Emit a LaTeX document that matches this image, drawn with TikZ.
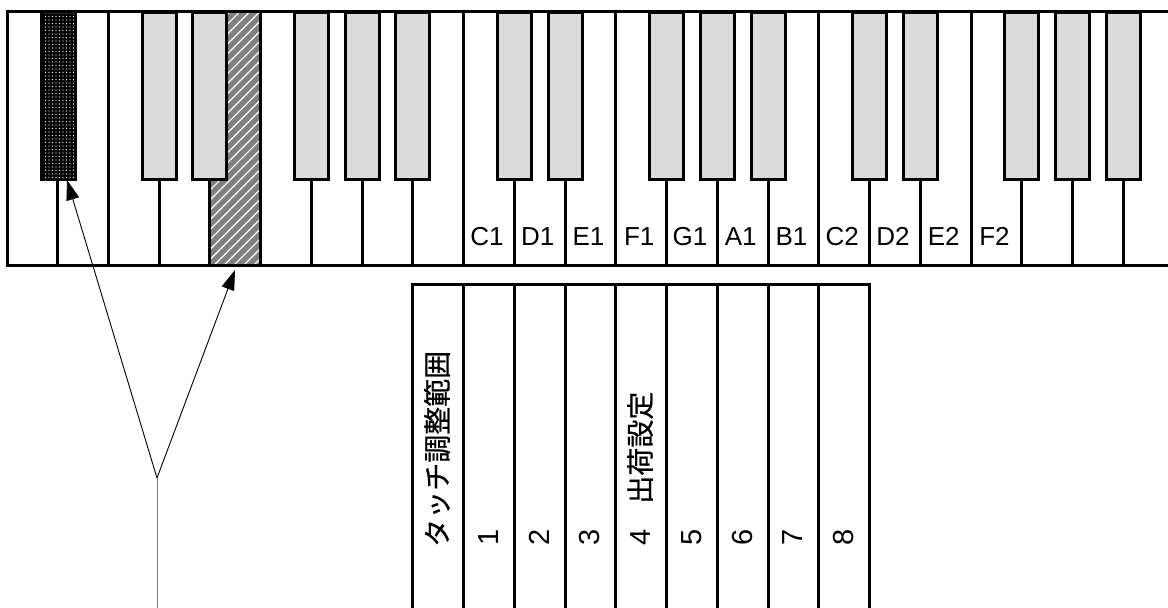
\documentclass[tikz,border=0pt]{standalone}
\usepackage{fontspec}
\newfontfamily\jp[FakeBold=0.6]{Noto Sans CJK JP}
\newfontfamily\lat{Liberation Sans}
\usetikzlibrary{patterns.meta,arrows.meta}
\begin{document}
\begin{tikzpicture}[x=1pt,y=-1pt,
  frame/.style={line width=3pt},
  blackkey/.style={draw=black,line width=3pt,fill=black!14,minimum width=34pt,minimum height=166.5pt,anchor=north,inner sep=0pt},
  darkkey/.style={blackkey,fill=black},
  lbl/.style={font=\lat\fontsize{26}{26}\selectfont,inner sep=0pt,anchor=base},
  colt/.style={font=\jp\fontsize{28}{28}\selectfont,inner sep=0pt,rotate=90,anchor=base west},
  colnum/.style={font=\lat\fontsize{29}{29}\selectfont,inner sep=0pt,rotate=90,anchor=base west},
  arr/.style={line width=0.9pt,-{Triangle[length=20pt,width=13pt]}}]
\def\kw{50.74}
\useasboundingbox (0,0) rectangle (1168,608);
\clip (0,0) rectangle (1168,608);
\fill[white] (0,0) rectangle (1168,608);
% hatched key E
\fill[gray] ({7+4*\kw},265) -- ({7+4*\kw},177) -- ({7+4*\kw+17},177) -- ({7+4*\kw+17},11) -- ({7+5*\kw},11) -- ({7+5*\kw},265) -- cycle;
\fill[pattern={Lines[angle=45,distance=7pt,line width=1.2pt]},pattern color=white] ({7+4*\kw},265) -- ({7+4*\kw},177) -- ({7+4*\kw+17},177) -- ({7+4*\kw+17},11) -- ({7+5*\kw},11) -- ({7+5*\kw},265) -- cycle;
% white key dividers
\foreach \i in {1,3,4,6,7,8,10,11,13,14,15,17,18,20,21,22}
  \draw[frame] ({7+\i*\kw},177) -- ({7+\i*\kw},265);
\foreach \i in {2,5,9,12,16,19}
  \draw[frame] ({7+\i*\kw},11) -- ({7+\i*\kw},265);
% frame
\draw[frame] (1185,11) -- (7,11) -- (7,265) -- (1185,265);
% black keys
\node[darkkey] (bk1) at ({7+1*\kw+1},11) {};
\fill[pattern={Dots[distance=3.5pt,radius=0.55pt]},pattern color=white] ([shift={(2.5,-2.5)}]bk1.south west) rectangle ([shift={(-2.5,2.5)}]bk1.north east);
\foreach \i in {3,4,6,7,8,10,11,13,14,15,17,18,20,21,22}
  \node[blackkey] (bk\i) at ({7+\i*\kw},11) {};
% key labels
\foreach \n [count=\k from 9] in {C1,D1,E1,F1,G1,A1,B1,C2,D2,E2,F2}
  \node[lbl] (l\n) at ({7+(\k+0.5)*\kw-2},245) {\n};
% table
\draw[frame] ({7+8*\kw},620) -- ({7+8*\kw},284) -- ({7+17*\kw},284) -- ({7+17*\kw},620);
\foreach \i in {9,...,16}
  \draw[frame] ({7+\i*\kw},284) -- ({7+\i*\kw},620);
\node[colt] (c0) at ({7+9*\kw-16},547) {タッチ調整範囲};
\node[colnum] (c1) at ({7+10*\kw-16},546) {1};
\node[colnum] (c2) at ({7+11*\kw-16},546) {2};
\node[colnum] (c3) at ({7+12*\kw-16},546) {3};
\node[colt] (c4) at ({7+13*\kw-16},546) {{\lat\fontsize{29}{29}\selectfont 4}\hspace{26pt}出荷設定};
\node[colnum] (c5) at ({7+14*\kw-16},546) {5};
\node[colnum] (c6) at ({7+15*\kw-16},546) {6};
\node[colnum] (c7) at ({7+16*\kw-16},546) {7};
\node[colnum] (c8) at ({7+17*\kw-16},546) {8};
% arrows
\coordinate (fork) at (157,478);
\coordinate (tipL) at (67,180);
\coordinate (tipR) at (235,270);
\coordinate (tail) at (157,612);
\draw[arr] (fork) -- (tipL);
\draw[arr] (fork) -- (tipR);
\draw[gray,line width=1pt] (fork) -- (tail);
\end{tikzpicture}
\end{document}
